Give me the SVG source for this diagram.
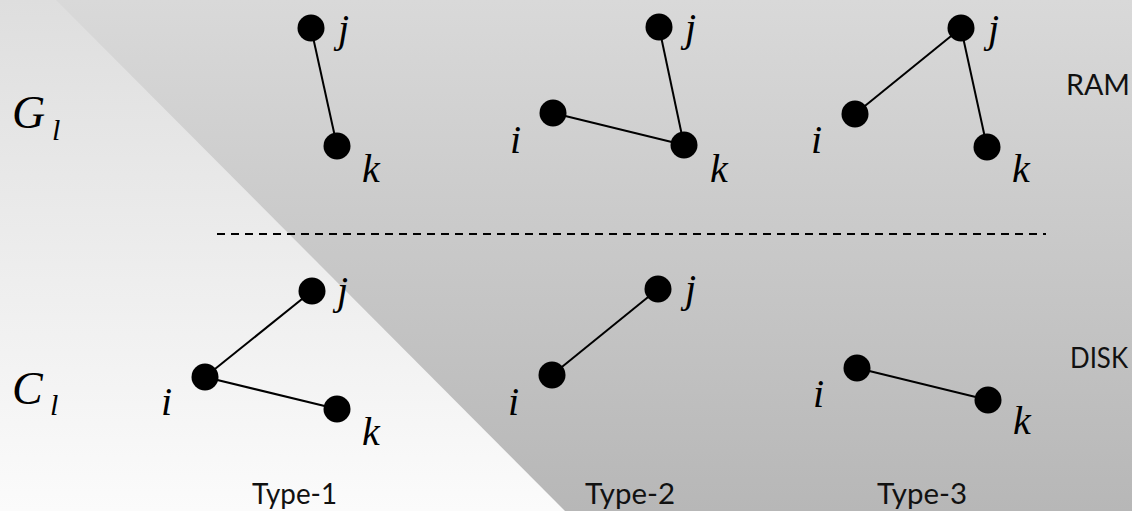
<svg xmlns="http://www.w3.org/2000/svg" width="1132" height="511" viewBox="0 0 1132 511">
  <defs>
    <linearGradient id="bgDark" x1="0" y1="0" x2="0" y2="1">
      <stop offset="0" stop-color="#d9d9d9"/>
      <stop offset="1" stop-color="#b7b7b7"/>
    </linearGradient>
    <linearGradient id="bgLight" x1="0" y1="0" x2="0" y2="1">
      <stop offset="0" stop-color="#dedede"/>
      <stop offset="1" stop-color="#fbfbfb"/>
    </linearGradient>
    <style>
      .node { fill: #000; }
      .edge { stroke: #000; stroke-width: 2; fill: none; }
      .sep { stroke: #000; stroke-width: 2; stroke-dasharray: 8 6; fill: none; }
      .math { font-family: "Liberation Serif", "DejaVu Serif", serif; font-style: italic; font-size: 40px; fill: #000; }
      .big { font-family: "Liberation Serif", "DejaVu Serif", serif; font-style: italic; font-size: 46px; fill: #000; }
      .sub { font-family: "Liberation Serif", "DejaVu Serif", serif; font-style: italic; font-size: 30px; fill: #000; }
      .lbl { font-family: Lato, "DejaVu Sans", sans-serif; font-weight: 400; font-size: 28px; fill: #111; }
    </style>
  </defs>

  <!-- background: dark field with a light wedge on the left -->
  <rect x="0" y="0" width="1132" height="511" fill="url(#bgDark)"/>
  <polygon points="0,0 56,0 565,511 0,511" fill="url(#bgLight)"/>

  <!-- row labels -->
  <g id="label-G">
    <text class="big" x="12" y="128">G</text>
    <text class="sub" x="52" y="140">l</text>
  </g>
  <g id="label-C">
    <text class="big" x="12" y="404">C</text>
    <text class="sub" x="50" y="415">l</text>
  </g>
  <text id="label-RAM" class="lbl" x="1066" y="95" textLength="64" lengthAdjust="spacingAndGlyphs">RAM</text>
  <text id="label-DISK" class="lbl" x="1070" y="368" textLength="58" lengthAdjust="spacingAndGlyphs">DISK</text>

  <!-- column labels -->
  <text id="label-type1" class="lbl" x="252" y="504" textLength="85" lengthAdjust="spacingAndGlyphs">Type-1</text>
  <text id="label-type2" class="lbl" x="585" y="504" textLength="90" lengthAdjust="spacingAndGlyphs">Type-2</text>
  <text id="label-type3" class="lbl" x="877" y="504" textLength="90" lengthAdjust="spacingAndGlyphs">Type-3</text>

  <!-- connectors -->
  <g id="connectors">
    <line class="sep" x1="217" y1="234" x2="1046" y2="234"/>
    <!-- G_l row -->
    <line class="edge" x1="311" y1="28" x2="337" y2="146"/>
    <line class="edge" x1="659" y1="27" x2="684" y2="145"/>
    <line class="edge" x1="553" y1="113" x2="684" y2="145"/>
    <line class="edge" x1="961" y1="28" x2="855" y2="114"/>
    <line class="edge" x1="961" y1="28" x2="987" y2="147"/>
    <!-- C_l row -->
    <line class="edge" x1="205" y1="377" x2="312" y2="291"/>
    <line class="edge" x1="205" y1="377" x2="337" y2="409"/>
    <line class="edge" x1="552" y1="375" x2="658" y2="289"/>
    <line class="edge" x1="857" y1="368" x2="988" y2="400"/>
  </g>

  <!-- G_l, Type-1 -->
  <g id="g1-j"><circle class="node" cx="311" cy="28" r="13.5"/><text class="math" x="338" y="42">j</text></g>
  <g id="g1-k"><circle class="node" cx="337" cy="146" r="13.5"/><text class="math" x="362" y="182">k</text></g>

  <!-- G_l, Type-2 -->
  <g id="g2-j"><circle class="node" cx="659" cy="27" r="13.5"/><text class="math" x="685" y="41">j</text></g>
  <g id="g2-i"><circle class="node" cx="553" cy="113" r="13.5"/><text class="math" x="510" y="153">i</text></g>
  <g id="g2-k"><circle class="node" cx="684" cy="145" r="13.5"/><text class="math" x="710" y="182">k</text></g>

  <!-- G_l, Type-3 -->
  <g id="g3-j"><circle class="node" cx="961" cy="28" r="13.5"/><text class="math" x="988" y="42">j</text></g>
  <g id="g3-i"><circle class="node" cx="855" cy="114" r="13.5"/><text class="math" x="811" y="153">i</text></g>
  <g id="g3-k"><circle class="node" cx="987" cy="147" r="13.5"/><text class="math" x="1012" y="182">k</text></g>

  <!-- C_l, Type-1 -->
  <g id="c1-j"><circle class="node" cx="312" cy="291" r="13.5"/><text class="math" x="337" y="304">j</text></g>
  <g id="c1-i"><circle class="node" cx="205" cy="377" r="13.5"/><text class="math" x="161" y="415">i</text></g>
  <g id="c1-k"><circle class="node" cx="337" cy="409" r="13.5"/><text class="math" x="362" y="445">k</text></g>

  <!-- C_l, Type-2 -->
  <g id="c2-j"><circle class="node" cx="658" cy="289" r="13.5"/><text class="math" x="685" y="302">j</text></g>
  <g id="c2-i"><circle class="node" cx="552" cy="375" r="13.5"/><text class="math" x="508" y="415">i</text></g>

  <!-- C_l, Type-3 -->
  <g id="c3-i"><circle class="node" cx="857" cy="368" r="13.5"/><text class="math" x="813" y="407">i</text></g>
  <g id="c3-k"><circle class="node" cx="988" cy="400" r="13.5"/><text class="math" x="1013" y="434">k</text></g>
</svg>
